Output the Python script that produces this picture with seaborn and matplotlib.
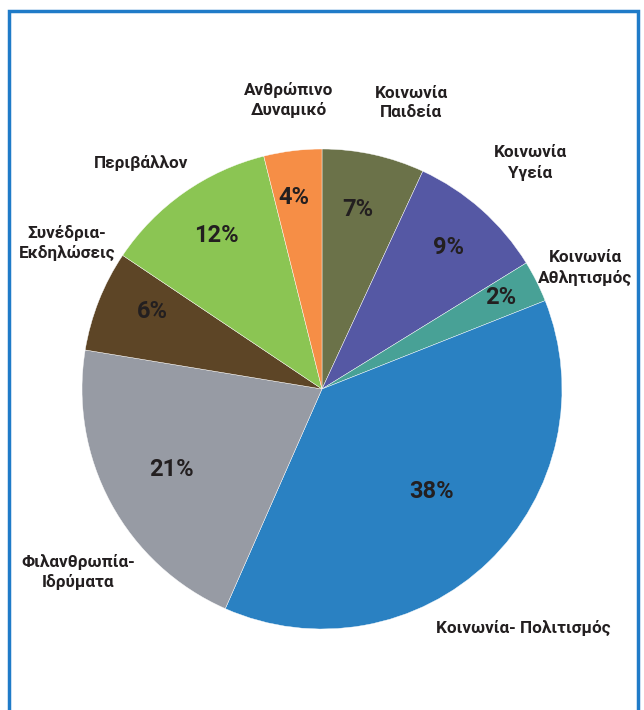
import matplotlib
matplotlib.use("Agg")
import matplotlib.pyplot as plt
from matplotlib.patches import Rectangle
import seaborn as sns

sns.set_theme(style="white")
plt.rcParams['font.family'] = ['Roboto', 'DejaVu Sans']

# data: share of each sector (clockwise from the top)
categories = ["Κοινωνία\nΠαιδεία", "Κοινωνία\nΥγεία", "Κοινωνία\nΑθλητισμός",
              "Κοινωνία- Πολιτισμός", "Φιλανθρωπία-\nΙδρύματα", "Συνέδρια-\nΕκδηλώσεις",
              "Περιβάλλον", "Ανθρώπινο\nΔυναμικό"]
shares = [6.9, 9.3, 2.8, 37.6, 21.0, 6.8, 11.7, 3.9]
pct_labels = ["7%", "9%", "2%", "38%", "21%", "6%", "12%", "4%"]

colors = ["#6b7249", "#5558a4", "#48a196", "#2a81c2", "#979ba4",
          "#5d4526", "#8bc553", "#f68e46"]

# where the texts sit (pixel positions in the original layout)
pct_pos = [(358, 209), (449, 247), (501, 297), (432, 491),
           (171, 470), (152, 311), (216, 236), (294, 198)]
cat_pos = [(411, 103), (530, 163), (585, 268), (523, 628),
           (78, 572), (67, 243), (141, 163), (289, 100)]

W, H = 644, 710
cx, cy, R = 322, 389, 240

fig = plt.figure(figsize=(W / 100, H / 100), dpi=100)
ax = fig.add_axes([0, 0, 1, 1])
ax.pie(shares, colors=colors, startangle=90, counterclock=False,
       wedgeprops=dict(edgecolor="white", linewidth=0.3))
ax.set_xlim(-cx / R, (W - cx) / R)
ax.set_ylim(-(H - cy) / R, cy / R)
ax.set_aspect("equal")
ax.axis("off")


def to_data(p):
    return (p[0] - cx) / R, (cy - p[1]) / R


txt = "#231f20"
for lab, p in zip(pct_labels, pct_pos):
    x, y = to_data(p)
    ax.text(x, y, lab, ha="center", va="center", fontsize=17,
            fontweight="bold", color=txt)

for lab, p in zip(categories, cat_pos):
    x, y = to_data(p)
    ax.text(x, y, lab, ha="center", va="center", fontsize=12.3,
            fontweight="bold", color=txt, linespacing=1.35)

# blue frame
fig.patches.append(Rectangle((9 / W, -0.05), (638 - 9) / W, 1.05 - 11 / H,
                             transform=fig.transFigure, fill=False,
                             edgecolor="#1f7bc8", linewidth=2.5))

fig.savefig("out.png", dpi=100)
